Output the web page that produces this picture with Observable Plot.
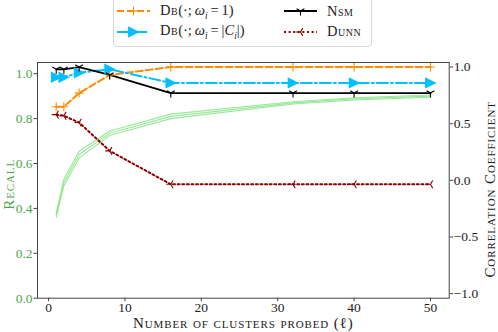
<!DOCTYPE html>
<html><head><meta charset="utf-8">
<script src="https://cdn.jsdelivr.net/npm/d3@7"></script>
<script src="https://cdn.jsdelivr.net/npm/@observablehq/plot@0.6"></script>
<style>
body{margin:0;background:#fff;}
#wrap{position:relative;width:498px;height:332px;overflow:hidden;font-family:"Liberation Serif",serif;}
#wrap > svg{position:absolute;left:0;top:0;background:transparent;}
.lbl text{letter-spacing:0.9px;}
.leg{position:absolute;left:113px;top:-4px;width:259px;height:51px;border:1px solid #d9d9d9;border-radius:4px;box-sizing:border-box;background:#fff;z-index:5}
.item{position:absolute;height:20px;display:flex;align-items:center;font-size:14.5px;white-space:nowrap;color:#222}
.item svg{margin-right:10px;flex:none}
.sc{font-variant:small-caps;letter-spacing:0.5px}
</style></head>
<body><div id="wrap"></div>
<script>
// ---- data ----
const probes = [1, 2, 4, 8, 16, 32, 40, 50];
const dbUniform = [0.65, 0.65, 0.77, 0.93, 1.0, 1.0, 1.0, 1.0];
const dbSize = [0.91, 0.91, 0.95, 0.98, 0.86, 0.86, 0.86, 0.86];
const nsm = [0.98, 0.98, 1.0, 0.93, 0.77, 0.77, 0.77, 0.77];
const dunn = [0.58, 0.57, 0.51, 0.26, -0.035, -0.035, -0.035, -0.035];
const recallA = [0.38, 0.53, 0.655, 0.745, 0.82, 0.875, 0.893, 0.905];
const recallB = [0.37, 0.515, 0.64, 0.735, 0.81, 0.87, 0.888, 0.90];
const recallC = [0.36, 0.50, 0.625, 0.725, 0.80, 0.865, 0.883, 0.895];
const xTicks = [0, 10, 20, 30, 40, 50];
const recallTicks = [0, 0.2, 0.4, 0.6, 0.8, 1.0];
const corrTicks = [-1, -0.5, 0, 0.5, 1];

// ---- symbols ----
const rad = s => Math.sqrt(s / Math.PI);
const triRight = {draw(c, s){const r = rad(s); c.moveTo(r,0); c.lineTo(-r,-r); c.lineTo(-r,r); c.closePath();}};
const triDown = {draw(c, s){const r = rad(s); c.moveTo(0,0); c.lineTo(0,r); c.moveTo(0,0); c.lineTo(-0.866*r,-0.5*r); c.moveTo(0,0); c.lineTo(0.866*r,-0.5*r);}};
const triLeft = {draw(c, s){const r = rad(s); c.moveTo(0,0); c.lineTo(-r,0); c.moveTo(0,0); c.lineTo(0.5*r,-0.866*r); c.moveTo(0,0); c.lineTo(0.5*r,0.866*r);}};
const plusSym = {draw(c, s){const r = rad(s); c.moveTo(-r,0); c.lineTo(r,0); c.moveTo(0,-r); c.lineTo(0,r);}};

const series = [
  {name:"dbU", values: dbUniform, color:"#ff8c00", dash:"7,3", sym: plusSym, r:4.5, fill:"none", sw:2},
  {name:"dbS", values: dbSize, color:"#00bfff", dash:"11,3,2,3", sym: triRight, r:4.8, fill:"#00bfff", sw:2},
  {name:"nsm", values: nsm, color:"#000000", dash:null, sym: triDown, r:4.5, fill:"none", sw:1.8},
  {name:"dunn", values: dunn, color:"#8b0000", dash:"2,2.6", sym: triLeft, r:4.5, fill:"none", sw:2}
];

const W = 498, H = 332;
const margins = {marginTop:62, marginBottom:34.3, marginLeft:37, marginRight:49.3};
const font = {fontFamily:"Liberation Serif, serif", fontSize:"13.5px", background:"transparent", overflow:"visible"};
const xDomain = [-1.45, 52.45];
const green = "#4aab4a";
const FS = 13.5, LFS = 15;

const tab = vals => probes.map((x, i) => ({x, v: vals[i]}));

// ---- left: recall ----
const left = Plot.plot({
  width: W, height: H, ...margins, style: font,
  x: {domain: xDomain, axis: null},
  y: {domain: [0, 1.05], axis: null},
  marks: [
    ...[recallA, recallB, recallC].map(r => Plot.line(tab(r), {x:"x", y:"v", stroke:"#8fe68f", strokeWidth:1.1, strokeOpacity:0.9})),
    Plot.axisY({anchor:"left", ticks: recallTicks, tickFormat: d3.format(".1f"), tickSize:3.5, tickPadding:1.5, fill: green, stroke:"#444", label:null, fontSize: FS}),
    Plot.text(["Recall"], {frameAnchor:"left", dx:-28.5, dy:4, rotate:-90, textAnchor:"middle", lineAnchor:"middle", text: d => d, fill: green, fontVariant:"small-caps", fontSize:LFS, className:"lbl"})
  ]
});

// ---- right: correlation ----
const corrMarks = [];
for (const s of series) {
  corrMarks.push(Plot.line(tab(s.values), {x:"x", y:"v", stroke:s.color, strokeWidth:s.sw, strokeDasharray:s.dash || undefined}));
}
for (const s of series) {
  corrMarks.push(Plot.dot(tab(s.values), {x:"x", y:"v", symbol:s.sym, r:s.r, stroke:s.color, fill:s.fill, strokeWidth:1.1}));
}
const right = Plot.plot({
  width: W, height: H, ...margins, style: font,
  x: {domain: xDomain, axis: null},
  y: {domain: [-1.04, 1.04], axis: null},
  marks: [
    ...corrMarks,
    Plot.frame({stroke:"#444", strokeWidth:1}),
    Plot.axisX({ticks: xTicks, tickSize:3.5, tickPadding:1, stroke:"#444", fill:"#222", label:null, fontSize: FS}),
    Plot.axisY({anchor:"right", ticks: corrTicks, tickFormat: d3.format(".1f"), tickSize:3.5, tickPadding:1, stroke:"#444", fill:"#222", label:null, fontSize: FS}),
    Plot.text(["Correlation Coefficient"], {frameAnchor:"right", dx:41, dy:9, rotate:-90, textAnchor:"middle", lineAnchor:"middle", text: d => d, fill:"#222", fontVariant:"small-caps", fontSize:LFS, className:"lbl"}),
    Plot.text(["Number of clusters probed (\u2113)"], {frameAnchor:"bottom", dy:25, textAnchor:"middle", lineAnchor:"middle", text: d => d, fill:"#222", fontVariant:"small-caps", fontSize:LFS, className:"lbl"})
  ]
});

const wrap = document.getElementById("wrap");
wrap.appendChild(left);
wrap.appendChild(right);

// ---- legend ----
const leg = document.createElement("div");
leg.className = "leg";
wrap.appendChild(leg);
const sub = 'style="font-size:9.5px"';
const labels = {
  dbU: `<span class="sc">Db</span>(·;&thinsp;<i>ω<sub ${sub}>i</sub></i>&thinsp;=&thinsp;1)`,
  dbS: `<span class="sc">Db</span>(·;&thinsp;<i>ω<sub ${sub}>i</sub></i>&thinsp;=&thinsp;|<i>C<sub ${sub}>i</sub></i>|)`,
  nsm: '<span class="sc">Nsm</span>',
  dunn: '<span class="sc">Dunn</span>'
};
const pos = {dbU:[3,4], dbS:[3,24.5], nsm:[170,4], dunn:[170,24.5]};
for (const s of series) {
  const it = document.createElement("div");
  it.className = "item";
  it.style.left = pos[s.name][0] + "px";
  it.style.top = pos[s.name][1] + "px";
  const svg = d3.create("svg").attr("width", 33).attr("height", 14);
  svg.append("line").attr("x1",0).attr("x2",33).attr("y1",7).attr("y2",7)
    .attr("stroke", s.color).attr("stroke-width", s.sw).attr("stroke-dasharray", s.dash);
  const size = Math.PI * s.r * s.r;
  const p = d3.path(); s.sym.draw(p, size);
  svg.append("path").attr("d", p.toString()).attr("transform","translate(16.5,7)")
    .attr("stroke", s.color).attr("fill", s.fill).attr("stroke-width", 1.1);
  it.appendChild(svg.node());
  const t = document.createElement("span");
  t.innerHTML = labels[s.name];
  it.appendChild(t);
  leg.appendChild(it);
}
</script></body></html>
